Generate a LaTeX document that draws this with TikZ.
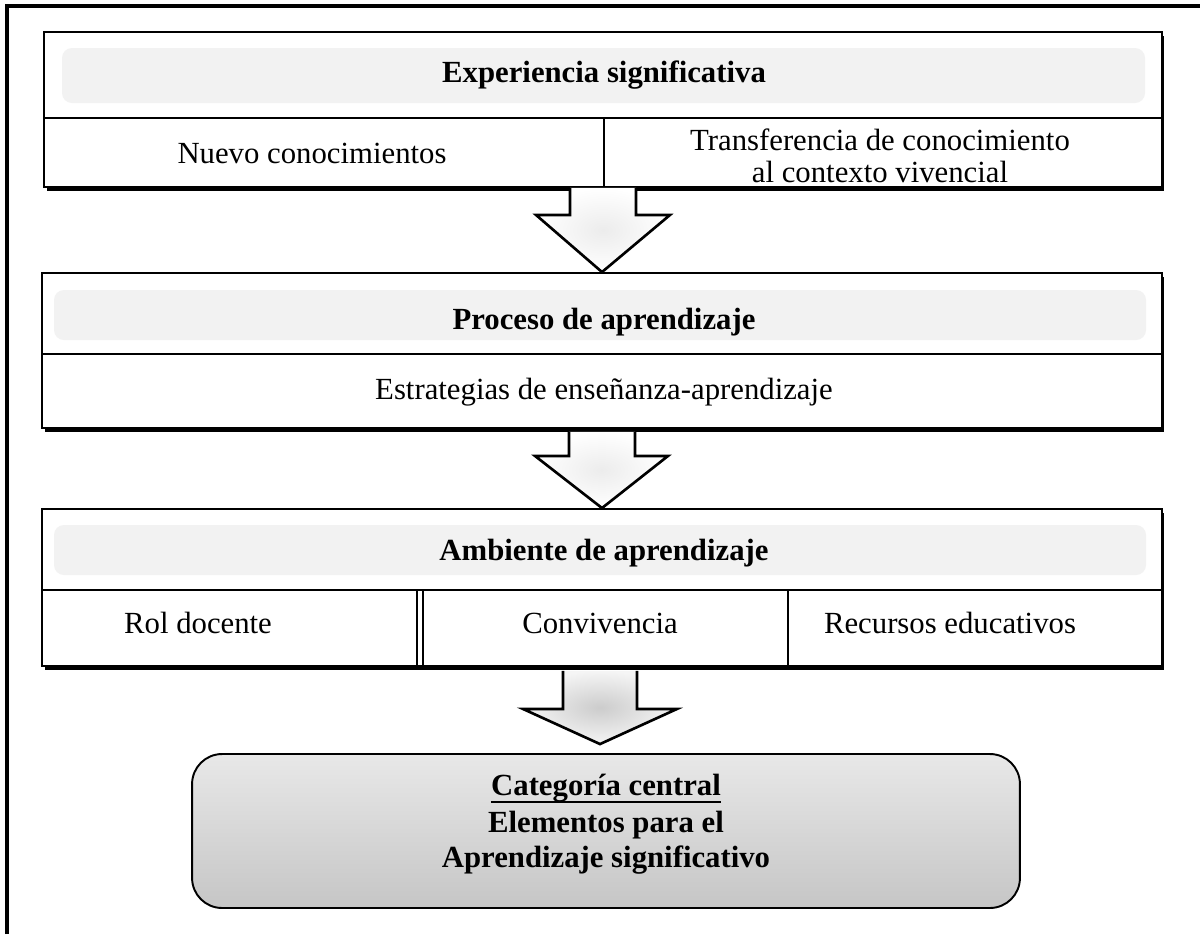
\documentclass[tikz,border=0pt]{standalone}
\usepackage{fontspec}
\setmainfont{Liberation Serif}
\usetikzlibrary{calc,shadows,positioning}

\tikzset{
  box/.style={draw, line width=1.1pt, fill=white, inner sep=0pt,
    drop shadow={shadow xshift=0.05cm, shadow yshift=-0.08cm, fill=black, opacity=1}},
  band/.style={fill=gray!10, rounded corners=0.2cm},
  txt/.style={font=\fontsize{17.5}{20}\selectfont, inner sep=0pt, text height=12pt, text depth=4pt},
  head/.style={font=\fontsize{17.5}{20}\selectfont\bfseries, inner sep=0pt, text height=12pt, text depth=4pt},
  blockarrow/.style={draw, line width=1.5pt, line join=miter, inner color=gray!15, outer color=white},
}

\begin{document}
\begin{tikzpicture}[x=0.02cm, y=-0.02cm]
    \useasboundingbox (0,0) rectangle (1200,934);
    % outer frame
    \draw[line width=0.08cm] (7,934) -- (7,6) -- (1200,6);

    % first block
    \node[box, minimum width=22.36cm, minimum height=3.1cm] (exp) at (603,109.5) {};
    \fill[band] (62,48) rectangle (1145,103);
    \draw[line width=1.1pt] (44,118) -- (1162,118);
    \draw[line width=1.1pt] (604,118) -- (604,187);
    \node[head] (expT) at (604,75) {Experiencia significativa};
    \node[txt] (nuevo) at (312,156) {Nuevo conocimientos};
    \node[inner sep=0pt, align=center, font=\fontsize{17.5}{18.5}\selectfont] (transf) at (880,156) {Transferencia de conocimiento\\al contexto vivencial};

    % second block
    \node[box, minimum width=22.4cm, minimum height=3.1cm] (proc) at (602,350.5) {};
    \fill[band] (54,290) rectangle (1146,340);
    \draw[line width=1.1pt] (42,354) -- (1162,354);
    \node[head] (procT) at (604,322) {Proceso de aprendizaje};
    \node[txt] (estr) at (604,392) {Estrategias de enseñanza-aprendizaje};

    % third block
    \node[box, minimum width=22.4cm, minimum height=3.14cm] (amb) at (602,587.5) {};
    \fill[band] (54,525) rectangle (1146,575);
    \draw[line width=1.1pt] (42,590) -- (1162,590);
    \draw[line width=1.1pt] (417,590) -- (417,666);
    \draw[line width=1.1pt] (423,590) -- (423,666);
    \draw[line width=1.1pt] (788,590) -- (788,666);
    \node[head] (ambT) at (604,553) {Ambiente de aprendizaje};
    \node[txt] (rol) at (198,626) {Rol docente};
    \node[txt] (conv) at (600,626) {Convivencia};
    \node[txt] (recu) at (950,626) {Recursos educativos};

    % central category
    \node[draw, line width=1.1pt, rounded corners=0.6cm, top color=gray!18, bottom color=gray!45,
          minimum width=16.56cm, minimum height=3.08cm] (cat) at (606,831) {};
    \node[head] (catA) at (606,788) {Categoría central};
    \draw[line width=0.8pt] ($(catA.base west)+(0,7)$) -- ($(catA.base east)+(0,7)$);
    \node[head] (catB) at (606,825) {Elementos para el};
    \node[head] (catC) at (606,860) {Aprendizaje significativo};

    % block arrows
    \draw[blockarrow] ($(exp.south)+(-33,0)$) -- ++(0,27) -- ++(-34,0) -- (proc.north)
        -- ($(exp.south)+(67,27)$) -- ($(exp.south)+(33,27)$) -- ($(exp.south)+(33,0)$);
    \draw[blockarrow] ($(proc.south)+(-33,3)$) -- ++(0,24) -- ++(-34,0) -- (amb.north)
        -- ($(proc.south)+(66,27)$) -- ($(proc.south)+(33,27)$) -- ($(proc.south)+(33,3)$);
    \coordinate (tip) at ($(cat.north)+(-6,-9)$);
    \draw[blockarrow, inner color=gray!40, outer color=gray!8] ($(amb.south)+(-39,4)$) -- ++(0,38) -- ++(-40,0) -- (tip)
        -- ($(amb.south)+(75,42)$) -- ($(amb.south)+(35,42)$) -- ($(amb.south)+(35,4)$);
\end{tikzpicture}
\end{document}
